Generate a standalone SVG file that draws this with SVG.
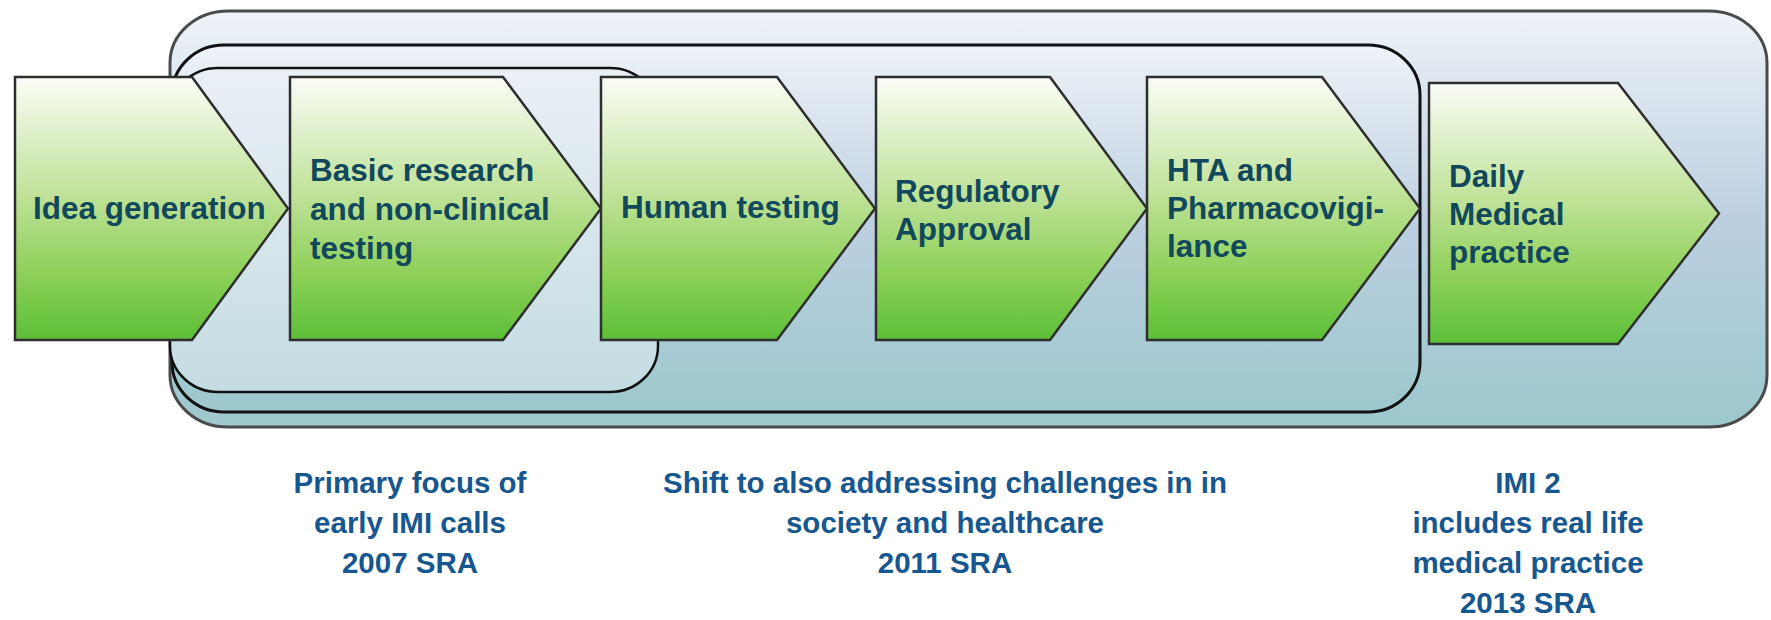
<svg xmlns="http://www.w3.org/2000/svg" width="1771" height="620" viewBox="0 0 1771 620">
  <defs>
    <linearGradient id="gBack" x1="0" y1="0" x2="0" y2="1">
      <stop offset="0" stop-color="#eef3f8"/>
      <stop offset="0.5" stop-color="#bccfe1"/>
      <stop offset="1" stop-color="#9cc8cd"/>
    </linearGradient>
    <linearGradient id="gInner" x1="0" y1="0" x2="0" y2="1">
      <stop offset="0" stop-color="#ebf0f7"/>
      <stop offset="1" stop-color="#c3dce2"/>
    </linearGradient>
    <linearGradient id="gGreen" x1="0" y1="0" x2="0" y2="1">
      <stop offset="0" stop-color="#fbfdf7"/>
      <stop offset="0.45" stop-color="#bfe298"/>
      <stop offset="0.75" stop-color="#8dd058"/>
      <stop offset="1" stop-color="#5cbf38"/>
    </linearGradient>
    <style>
      .outer { fill: url(#gBack); stroke: #4a4a4a; stroke-width: 3; }
      .mid { fill: url(#gBack); stroke: #111; stroke-width: 3; }
      .inner { fill: url(#gInner); stroke: #111; stroke-width: 2.5; }
      .chev { fill: url(#gGreen); stroke: #2e2e2e; stroke-width: 2.5; stroke-linejoin: miter; }
      .lbl { font-family: "Liberation Sans", Arial, sans-serif; font-weight: bold; font-size: 31.5px; fill: #11485b; }
      .cap { font-family: "Liberation Sans", Arial, sans-serif; font-weight: bold; font-size: 29.5px; fill: #17578f; text-anchor: middle; }
    </style>
  </defs>

  <g id="containers">
    <rect id="imi2" class="outer" x="170" y="11" width="1597" height="416" rx="58" ry="52"/>
    <rect id="sra2011" class="mid" x="172" y="45" width="1248" height="367" rx="52" ry="50"/>
    <rect id="sra2007" class="inner" x="170" y="68" width="488" height="324" rx="48" ry="46"/>
  </g>

  <g id="connectors"/>

  <g id="idea">
    <polygon class="chev" points="15,77 192,77 288,208.5 192,340 15,340"/>
    <text class="lbl" x="33" y="219">Idea generation</text>
  </g>
  <g id="basic">
    <polygon class="chev" points="290,77 503,77 601,208.5 503,340 290,340"/>
    <text class="lbl" x="310" y="181">Basic research</text>
    <text class="lbl" x="310" y="220">and non-clinical</text>
    <text class="lbl" x="310" y="259">testing</text>
  </g>
  <g id="human">
    <polygon class="chev" points="601,77 777,77 875,208.5 777,340 601,340"/>
    <text class="lbl" x="621" y="218">Human testing</text>
  </g>
  <g id="regulatory">
    <polygon class="chev" points="876,77 1050,77 1147,208.5 1050,340 876,340"/>
    <text class="lbl" x="895" y="202">Regulatory</text>
    <text class="lbl" x="895" y="240">Approval</text>
  </g>
  <g id="hta">
    <polygon class="chev" points="1147,77 1322,77 1420,208.5 1322,340 1147,340"/>
    <text class="lbl" x="1167" y="181">HTA and</text>
    <text class="lbl" x="1167" y="219">Pharmacovigi-</text>
    <text class="lbl" x="1167" y="257">lance</text>
  </g>
  <g id="daily">
    <polygon class="chev" points="1429,83 1618,83 1719,213.5 1618,344 1429,344"/>
    <text class="lbl" x="1449" y="187">Daily</text>
    <text class="lbl" x="1449" y="225">Medical</text>
    <text class="lbl" x="1449" y="263">practice</text>
  </g>

  <g id="captions">
    <text class="cap" x="410" y="493">Primary focus of</text>
    <text class="cap" x="410" y="533">early IMI calls</text>
    <text class="cap" x="410" y="573">2007 SRA</text>
    <text class="cap" x="945" y="493">Shift to also addressing challenges in in</text>
    <text class="cap" x="945" y="533">society and healthcare</text>
    <text class="cap" x="945" y="573">2011 SRA</text>
    <text class="cap" x="1528" y="493">IMI 2</text>
    <text class="cap" x="1528" y="533">includes real life</text>
    <text class="cap" x="1528" y="573">medical practice</text>
    <text class="cap" x="1528" y="613">2013 SRA</text>
  </g>
</svg>
